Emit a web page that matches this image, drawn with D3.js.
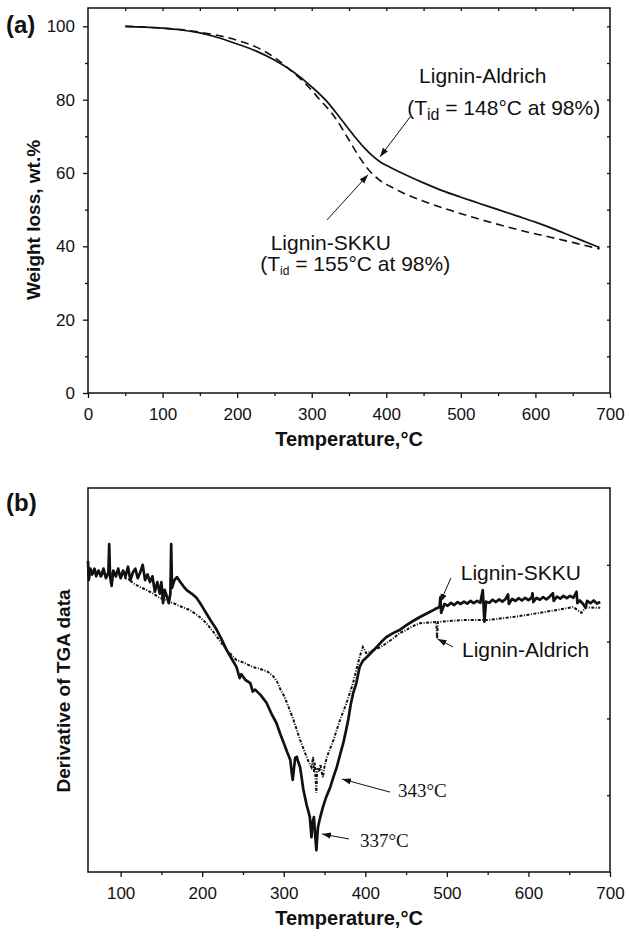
<!DOCTYPE html>
<html>
<head>
<meta charset="utf-8">
<script src="https://cdn.jsdelivr.net/npm/d3@7"></script>
<style>
  body { margin: 0; background: #fff; }
  text { font-family: "Liberation Sans", Arial, sans-serif; fill: #111; }
  .serif { font-family: "Liberation Serif", "Times New Roman", serif; }
</style>
</head>
<body>
<svg id="viz"></svg>
<script>

var width = 629;
var height = 937;

// ---- data: panel (a), TGA weight loss [temperature °C, wt.%]
var tgaAldrich = [[50,100],[75,99.8],[100,99.5],[125,99.0],[150,98.2],[175,96.9],[200,95.2],[225,93.3],
  [250,90.8],[275,87.6],[300,83.5],[320,79.6],[340,74.5],[355,70.6],[370,67.0],[382,64.6],[392,63.0],
  [405,61.6],[425,59.6],[450,57.3],[475,55.2],[500,53.4],[525,51.7],[550,50.0],[575,48.3],[600,46.6],
  [625,44.7],[650,42.6],[670,41.0],[686,39.7]];

var tgaSkku = [[50,100],[75,99.8],[100,99.5],[125,99.1],[150,98.4],[175,97.5],[200,96.2],[225,94.4],
  [250,91.5],[270,88.3],[290,84.7],[310,80.2],[330,75.5],[350,69.0],[365,64.0],[378,60.5],[390,58.2],
  [405,56.4],[420,54.8],[450,52.3],[485,49.9],[520,47.7],[553,45.8],[585,44.1],[620,42.5],[655,40.8],
  [686,39.3]];

// ---- data: panel (b), derivative of TGA (arbitrary units, 0 = bottom of frame)
var dtgSkku = [[60,81],[61,76],[63,79],[65,77.5],[68,79],[70,77],[73,78.5],[76,77],[79,79],[82,76.5],
  [85,78],[86,85.4],[87,77],[89,74.5],[91,78.5],[94,77],[97,79],[100,76.5],[103,78.5],[106,77],
  [109,79.5],[112,76],[115,78],[118,79],[121,76.5],[124,78],[127,80],[130,76],[133,77.5],[136,75.5],
  [139,77],[142,73],[145,75.5],[148,72.5],[150,75.5],[152,70],[154,73.5],[157,71.5],[159,70],
  [161,72.5],[162,85.4],[163,74],[166,76],[169,76.8],[173,75.6],[177,74.4],[181,73.4],[187,72.5],
  [193,71.4],[199,69.5],[205,67.4],[211,65.3],[218,63],[224,60.5],[230,57.8],[236,55.6],[242,53.4],
  [246,50.5],[248,51.5],[253,50.0],[259,49.2],[262,47],[265,47.5],[272,46.0],[279,44],[285,41.2],
  [291,38.8],[296,35.8],[300,33.6],[304,31.3],[308,29.2],[310,25.5],[311,24],[312,26],[314,29.7],
  [316,30],[318,28.5],[320,27.3],[322,24.5],[324,21.5],[326,19.5],[328,17.5],[330,16],[332,14.3],
  [334,9.1],[335,12.5],[337,14.3],[338,11],[340,5.7],[341,9],[342,11.7],[345,14.5],[348,16.9],
  [352,19.5],[357,22.1],[361,24.8],[365,27.3],[369,30.5],[373,33.6],[376,36.5],[379,39.6],[382,43.5],
  [385,46.5],[389,49.2],[393,53.4],[397,55],[402,56],[408,57.3],[414,58.6],[420,60],[426,61.2],
  [434,62.2],[442,63],[450,64.2],[458,65.3],[467,66.4],[476,67.4],[485,68.4],[491,69],[492,71.5],
  [493,67.5],[497,69.8],[501,69.3],[505,70.1],[509,69.5],[513,70.3],[517,69.8],[521,70.4],[525,69.9],
  [529,70.6],[533,70],[537,70.6],[541,70.1],[544,73.4],[546,65.2],[548,70.4],[552,70.1],[556,70.9],
  [560,70.3],[564,71],[568,70.4],[572,71.1],[575,72.3],[576,69.8],[580,71.1],[584,70.6],[588,71.3],
  [592,70.7],[596,71.4],[600,70.8],[604,71.5],[605,72.6],[606,70.3],[610,71.4],[614,70.9],[618,71.6],
  [622,71],[626,71.7],[630,72.6],[631,70.6],[635,71.7],[639,71.2],[643,71.9],[647,71.3],[651,71.9],
  [655,71.4],[659,73],[660,70],[663,70.7],[667,69.8],[670,68.8],[672,70.6],[676,70],[680,70.7],
  [684,69.9],[688,70.3]];

var dtgAldrich = [[60,79],[65,77.5],[70,78.5],[75,77],[80,78],[85,77.5],[90,78],[95,77],[100,77.5],
  [106,76.5],[111,76],[117,75],[124,74.2],[132,73.4],[140,72.5],[147,71.5],[155,70.8],[161,70.3],
  [167,69.8],[173,69.2],[179,68.7],[185,68.2],[192,67.2],[198,66.2],[205,64.8],[213,62.7],[221,60.4],
  [230,57.8],[236,56.5],[242,55.2],[250,54.6],[262,53.4],[272,52.8],[280,52.2],[287,51],[292,49.5],
  [296,47.5],[300,46],[304,44],[308,41.8],[312,39.6],[316,37],[320,34.4],[324,32.2],[328,30],
  [331,28.5],[334,27.3],[336,30],[337,26],[338,28.5],[340,20.6],[341,27],[343,26],[345,28],[347,25.5],
  [348,24.7],[350,27.5],[353,30],[357,32.2],[361,34.4],[365,37],[369,39.6],[373,41.8],[377,44],
  [381,46.6],[385,49.2],[389,52.6],[393,56],[397,58.6],[401,57],[405,57.3],[410,57.8],[418,58.5],
  [426,59.6],[434,60.8],[442,62.2],[450,63],[458,64],[467,64.8],[480,65],[487,65.1],[488,60.7],
  [489,65.1],[505,65.4],[520,65.6],[535,65.6],[549,65.6],[565,66],[581,66.4],[600,67],[622,67.8],
  [640,68.4],[655,69],[665,67.5],[670,68.9],[688,68.8]];

// axis tick values
var tgaXTicks = [0, 100, 200, 300, 400, 500, 600, 700];
var tgaYTicks = [0, 20, 40, 60, 80, 100];
var dtgXTicks = [100, 200, 300, 400, 500, 600, 700];

// annotations: text in data coordinates
var tgaNotes = [
  {x: 444, y: 84.5, main: "Lignin-Aldrich"},
  {x: 428, y: 75.8, main: "(T", sub: "id", rest: " = 148\u00B0C at 98%)", subSize: 16, subDy: 5},
  {x: 245, y: 39, main: "Lignin-SKKU"},
  {x: 231, y: 33.3, main: "(T", sub: "id", rest: " = 155\u00B0C at 98%)", subSize: 12, subDy: 4}
];
var tgaArrows = [
  {from: [432, 75.3], to: [391.6, 64.4]},
  {from: [320.5, 47.2], to: [375.5, 59.5]}
];
var dtgNotes = [
  {x: 517, y: 76, main: "Lignin-SKKU"},
  {x: 518.5, y: 56, main: "Lignin-Aldrich"},
  {x: 440, y: 19.5, main: "343\u00B0C", serif: true},
  {x: 393.5, y: 6.5, main: "337\u00B0C", serif: true}
];
var dtgArrows = [
  {from: [505, 76.6], to: [491.6, 70.1]},
  {from: [507.5, 58.6], to: [488.5, 60.7]},
  {from: [430.3, 20.8], to: [371.4, 24.2]},
  {from: [380, 8.6], to: [346.9, 9.9]}
];

var svg = d3.select("#viz")
  .attr("width", width)
  .attr("height", height);

svg.append("defs").append("marker")
  .attr("id", "head")
  .attr("viewBox", "0 0 10 10")
  .attr("refX", 10).attr("refY", 5)
  .attr("markerWidth", 9).attr("markerHeight", 9)
  .attr("markerUnits", "userSpaceOnUse")
  .attr("orient", "auto")
  .append("path")
  .attr("d", "M0,1.5L10,5L0,8.5Z")
  .attr("fill", "#111");

var left = 88, right = 610;

// Panel (a)
var xA = d3.scaleLinear().domain([0, 700]).range([left, right]);
var yA = d3.scaleLinear().domain([0, 105]).range([393, 8]);

// Panel (b)
var xB = d3.scaleLinear().domain([60, 700]).range([left, right]);
var yB = d3.scaleLinear().domain([0, 100]).range([872, 488]);

function frame(x, y) {
  svg.append("rect")
    .attr("x", x.range()[0]).attr("y", y.range()[1])
    .attr("width", x.range()[1] - x.range()[0])
    .attr("height", y.range()[0] - y.range()[1])
    .attr("fill", "none").attr("stroke", "#111").attr("stroke-width", 1.5);
}

function styleAxis(g) {
  g.select(".domain").remove();
  g.selectAll("line").attr("stroke", "#111").attr("stroke-width", 1.3);
  g.selectAll("text").style("font-size", "17px").style("fill", "#111");
}

function drawPanel(x, y, opts) {
  var bottom = y.range()[0];
  var top = y.range()[1];

  frame(x, y);

  // bottom axis, major + minor
  svg.append("g").attr("transform", "translate(0," + bottom + ")")
    .call(d3.axisBottom(x).tickValues(opts.xTicks).tickSize(5).tickPadding(10).tickSizeOuter(0))
    .call(styleAxis);
  svg.append("g").attr("transform", "translate(0," + bottom + ")")
    .call(d3.axisBottom(x).tickValues(opts.xMinor).tickSize(3).tickFormat(""))
    .call(styleAxis);

  if (opts.yTicks) {
    svg.append("g").attr("transform", "translate(" + left + ",0)")
      .call(d3.axisLeft(y).tickValues(opts.yTicks).tickSize(5).tickPadding(8).tickSizeOuter(0))
      .call(styleAxis);
    svg.append("g").attr("transform", "translate(" + left + ",0)")
      .call(d3.axisLeft(y).tickValues(opts.yMinor).tickSize(3).tickFormat(""))
      .call(styleAxis);
  }
  if (opts.topTicks) {
    svg.append("g").attr("transform", "translate(0," + top + ")")
      .call(d3.axisBottom(x).tickValues(opts.topTicks).tickSize(3).tickFormat(""))
      .call(styleAxis);
  }
  if (opts.rightTicks) {
    svg.append("g").attr("transform", "translate(" + right + ",0)")
      .call(d3.axisLeft(y).tickValues(opts.rightTicks).tickSize(3).tickFormat(""))
      .call(styleAxis);
  }

  // axis titles
  svg.append("text")
    .attr("x", (left + right) / 2).attr("y", bottom + 53)
    .attr("text-anchor", "middle")
    .style("font-size", "20px").style("font-weight", "bold")
    .text("Temperature,\u00B0C");

  svg.append("text")
    .attr("transform", "translate(" + opts.yTitleX + "," + opts.yTitleY + ") rotate(-90)")
    .attr("text-anchor", "middle")
    .style("font-size", "19px").style("font-weight", "bold")
    .text(opts.yTitle);

  svg.append("text")
    .attr("x", 6).attr("y", opts.letterY)
    .style("font-size", "24px").style("font-weight", "bold")
    .text(opts.letter);
}

drawPanel(xA, yA, {
  xTicks: tgaXTicks, xMinor: d3.range(50, 700, 100),
  yTicks: tgaYTicks, yMinor: d3.range(10, 105, 20),
  topTicks: d3.range(50, 700, 50), rightTicks: d3.range(10, 105, 10),
  yTitle: "Weight loss, wt.%", yTitleX: 40, yTitleY: 220,
  letter: "(a)", letterY: 33
});

drawPanel(xB, yB, {
  xTicks: dtgXTicks, xMinor: d3.range(150, 700, 100),
  rightTicks: [20, 40, 60, 80],
  yTitle: "Derivative of TGA data", yTitleX: 70, yTitleY: 691,
  letter: "(b)", letterY: 511
});

// curves
var lineA = d3.line().x(function(d) { return xA(d[0]); }).y(function(d) { return yA(d[1]); }).curve(d3.curveMonotoneX);
var lineB = d3.line().x(function(d) { return xB(d[0]); }).y(function(d) { return yB(d[1]); });

svg.append("path").datum(tgaSkku)
  .attr("d", lineA).attr("fill", "none")
  .attr("stroke", "#111").attr("stroke-width", 1.6).attr("stroke-dasharray", "8,5");
svg.append("path").datum(tgaAldrich)
  .attr("d", lineA).attr("fill", "none")
  .attr("stroke", "#111").attr("stroke-width", 1.7);

svg.append("path").datum(dtgAldrich)
  .attr("d", lineB).attr("fill", "none")
  .attr("stroke", "#111").attr("stroke-width", 2).attr("stroke-dasharray", "3,1.5,1,1.5");
svg.append("path").datum(dtgSkku)
  .attr("d", lineB).attr("fill", "none")
  .attr("stroke", "#111").attr("stroke-width", 2.7).attr("stroke-linejoin", "round");

// annotations
function notes(list, x, y) {
  list.forEach(function(n) {
    var t = svg.append("text")
      .attr("x", x(n.x)).attr("y", y(n.y))
      .attr("class", n.serif ? "serif" : null)
      .style("font-size", n.serif ? "19px" : "21px");
    t.append("tspan").text(n.main);
    if (n.sub) {
      t.append("tspan").attr("dy", n.subDy).style("font-size", n.subSize + "px").text(n.sub);
      t.append("tspan").attr("dy", -n.subDy).text(n.rest);
    }
  });
}

function arrows(list, x, y) {
  svg.selectAll(null).data(list).enter().append("line")
    .attr("x1", function(d) { return x(d.from[0]); })
    .attr("y1", function(d) { return y(d.from[1]); })
    .attr("x2", function(d) { return x(d.to[0]); })
    .attr("y2", function(d) { return y(d.to[1]); })
    .attr("stroke", "#111").attr("stroke-width", 1)
    .attr("marker-end", "url(#head)");
}

notes(tgaNotes, xA, yA);
arrows(tgaArrows, xA, yA);
notes(dtgNotes, xB, yB);
arrows(dtgArrows, xB, yB);

</script>
</body>
</html>
